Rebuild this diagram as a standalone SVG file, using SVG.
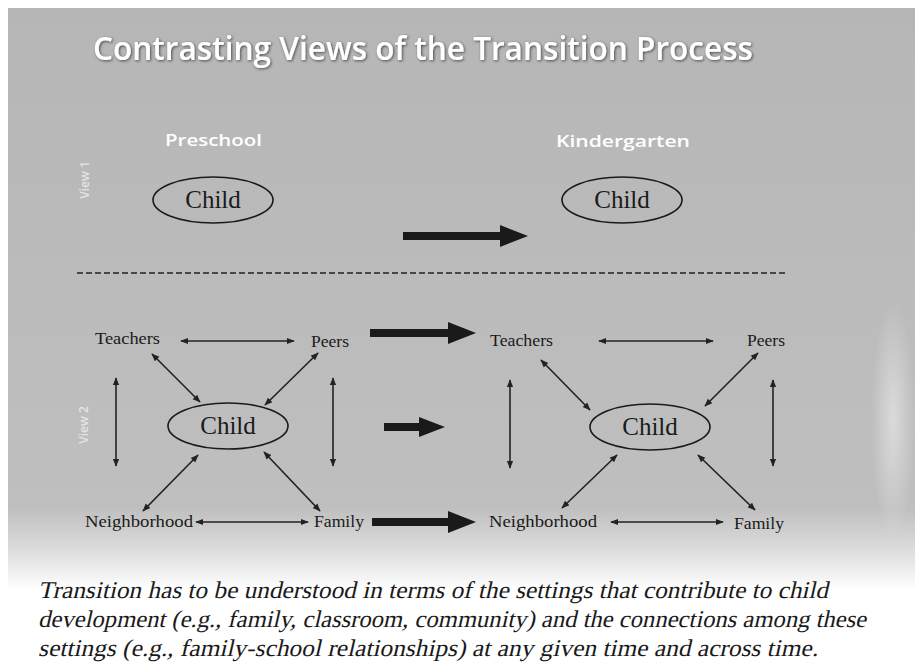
<svg xmlns="http://www.w3.org/2000/svg" width="919" height="667" viewBox="0 0 919 667">
<defs>
<linearGradient id="bg" x1="0" y1="0" x2="0" y2="1">
<stop offset="0" stop-color="#b6b6b6"/>
<stop offset="0.86" stop-color="#bfbfbf"/>
<stop offset="0.93" stop-color="#dcdcdc"/>
<stop offset="1" stop-color="#ffffff"/>
</linearGradient>
<radialGradient id="rb" cx="0.5" cy="0.5" r="0.5">
<stop offset="0" stop-color="#ffffff" stop-opacity="0.45"/>
<stop offset="1" stop-color="#ffffff" stop-opacity="0"/>
</radialGradient>
<filter id="sh" x="-5%" y="-20%" width="110%" height="140%">
<feGaussianBlur in="SourceAlpha" stdDeviation="1.5"/>
<feOffset dx="1" dy="1"/>
<feComponentTransfer><feFuncA type="linear" slope="0.6"/></feComponentTransfer>
<feMerge><feMergeNode/><feMergeNode in="SourceGraphic"/></feMerge>
</filter>
<marker id="ah" viewBox="0 0 10 10" refX="9" refY="5" markerWidth="8" markerHeight="8" markerUnits="userSpaceOnUse" orient="auto-start-reverse">
<path d="M0,1 L10,5 L0,9 Z" fill="#222"/>
</marker>
<style>
.ell{fill:none;stroke:#1a1a1a;stroke-width:1.6}
.ct{font-family:"Liberation Serif",serif;font-size:25px;fill:#1a1a1a;text-anchor:middle}
.lbl{font-family:"Liberation Serif",serif;font-size:16px;fill:#1a1a1a}
.hd{font-family:"Open Sans","DejaVu Sans",sans-serif;font-weight:600;fill:#ffffff}
.vw{font-family:"Open Sans","DejaVu Sans",sans-serif;font-size:12px;font-weight:600;fill:#e4e4e4;text-anchor:middle}
.thin{stroke:#222;stroke-width:1.6;fill:none;marker-start:url(#ah);marker-end:url(#ah)}
.big{fill:#1a1a1a}
.cap{font-family:"Liberation Serif",serif;font-size:24px;fill:#1a1a1a}
</style>
</defs>
<rect x="0" y="0" width="919" height="667" fill="#ffffff"/>
<rect x="8" y="8" width="907" height="582" fill="url(#bg)"/>
<ellipse cx="893" cy="420" rx="22" ry="120" fill="url(#rb)"/>
<text class="hd" x="93" y="60" font-size="32" textLength="660" lengthAdjust="spacingAndGlyphs" filter="url(#sh)">Contrasting Views of the Transition Process</text>
<text class="hd" x="165" y="146" font-size="17" textLength="97" lengthAdjust="spacingAndGlyphs">Preschool</text>
<text class="hd" x="556" y="147" font-size="17" textLength="134" lengthAdjust="spacingAndGlyphs">Kindergarten</text>
<text class="vw" transform="translate(89,180) rotate(-90)">View 1</text>
<text class="vw" transform="translate(88,425) rotate(-90)">View 2</text>
<line x1="77" y1="273" x2="788" y2="273" stroke="#222" stroke-width="1.6" stroke-dasharray="6,3"/>
<g id="v1-preschool-child">
<ellipse class="ell" cx="213" cy="200" rx="60" ry="23"/>
<text class="ct" x="213" y="208">Child</text>
</g>
<g id="v1-kindergarten-child">
<ellipse class="ell" cx="622" cy="200" rx="60" ry="23"/>
<text class="ct" x="622" y="208">Child</text>
</g>
<g id="v2-pre-teachers"><text class="lbl" x="95" y="344" textLength="65" lengthAdjust="spacingAndGlyphs">Teachers</text></g>
<g id="v2-pre-peers"><text class="lbl" x="311" y="347" textLength="38" lengthAdjust="spacingAndGlyphs">Peers</text></g>
<g id="v2-pre-child"><ellipse class="ell" cx="228" cy="426" rx="60" ry="23"/><text class="ct" x="228" y="434">Child</text></g>
<g id="v2-pre-neighborhood"><text class="lbl" x="85" y="527" textLength="108" lengthAdjust="spacingAndGlyphs">Neighborhood</text></g>
<g id="v2-pre-family"><text class="lbl" x="314" y="527" textLength="50" lengthAdjust="spacingAndGlyphs">Family</text></g>
<g id="v2-kg-teachers"><text class="lbl" x="490" y="346" textLength="63" lengthAdjust="spacingAndGlyphs">Teachers</text></g>
<g id="v2-kg-peers"><text class="lbl" x="747" y="346" textLength="38" lengthAdjust="spacingAndGlyphs">Peers</text></g>
<g id="v2-kg-child"><ellipse class="ell" cx="650" cy="427" rx="60" ry="23"/><text class="ct" x="650" y="435">Child</text></g>
<g id="v2-kg-neighborhood"><text class="lbl" x="489" y="527" textLength="108" lengthAdjust="spacingAndGlyphs">Neighborhood</text></g>
<g id="v2-kg-family"><text class="lbl" x="734" y="529" textLength="50" lengthAdjust="spacingAndGlyphs">Family</text></g>
<g id="connectors">
<path class="big" d="M403,232 L500,232 L500,225 L528,236 L500,247 L500,240 L403,240 Z"/>
<path class="big" d="M370,329 L448,329 L448,322 L476,333 L448,344 L448,337 L370,337 Z"/>
<path class="big" d="M384,423 L419,423 L419,417 L445,427 L419,437 L419,431 L384,431 Z"/>
<path class="big" d="M372,518 L448,518 L448,511 L476,522 L448,533 L448,526 L372,526 Z"/>
<line class="thin" x1="181" y1="341" x2="294" y2="341"/>
<line class="thin" x1="152" y1="354" x2="200" y2="402"/>
<line class="thin" x1="318" y1="353" x2="265" y2="405"/>
<line class="thin" x1="116" y1="378" x2="116" y2="466"/>
<line class="thin" x1="333" y1="378" x2="333" y2="466"/>
<line class="thin" x1="198" y1="455" x2="143" y2="511"/>
<line class="thin" x1="264" y1="452" x2="320" y2="511"/>
<line class="thin" x1="196" y1="522" x2="308" y2="522"/>
<line class="thin" x1="599" y1="341" x2="713" y2="341"/>
<line class="thin" x1="541" y1="360" x2="590" y2="410"/>
<line class="thin" x1="758" y1="353" x2="705" y2="406"/>
<line class="thin" x1="510" y1="380" x2="510" y2="468"/>
<line class="thin" x1="773" y1="380" x2="773" y2="466"/>
<line class="thin" x1="617" y1="455" x2="562" y2="508"/>
<line class="thin" x1="698" y1="455" x2="755" y2="510"/>
<line class="thin" x1="611" y1="522" x2="723" y2="522"/>
</g>
<text class="cap" transform="translate(38,598) skewX(-13)" x="0" y="0" textLength="790" lengthAdjust="spacingAndGlyphs">Transition has to be understood in terms of the settings that contribute to child</text>
<text class="cap" transform="translate(38,627) skewX(-13)" x="0" y="0" textLength="828" lengthAdjust="spacingAndGlyphs">development (e.g., family, classroom, community) and the connections among these</text>
<text class="cap" transform="translate(38,656) skewX(-13)" x="0" y="0" textLength="780" lengthAdjust="spacingAndGlyphs">settings (e.g., family-school relationships) at any given time and across time.</text>
</svg>
